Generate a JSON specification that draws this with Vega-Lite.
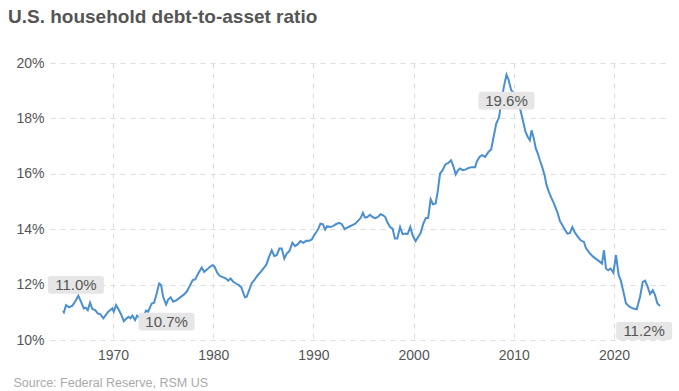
{
  "$schema": "https://vega.github.io/schema/vega-lite/v6.json",
  "width": 618,
  "height": 277,
  "autosize": {"type": "none"},
  "padding": {"left": 50, "top": 63, "right": 11, "bottom": 51},
  "background": "white",
  "title": {"text": "U.S. household debt-to-asset ratio", "anchor": "start", "frame": "group", "dx": -42, "fontSize": 19, "font": "Liberation Sans", "fontWeight": "bold", "color": "#555555", "offset": 29},
  "config": {"view": {"stroke": null}, "font": "Liberation Sans"},
  "datasets": {
    "series": [
      {"year": 1965.00, "value": 11.05}, {"year": 1965.10, "value": 11.00}, {"year": 1965.31, "value": 11.26}, {"year": 1965.61, "value": 11.18},
      {"year": 1965.94, "value": 11.24}, {"year": 1966.21, "value": 11.38}, {"year": 1966.54, "value": 11.60}, {"year": 1966.81, "value": 11.38},
      {"year": 1967.08, "value": 11.14}, {"year": 1967.28, "value": 11.17}, {"year": 1967.48, "value": 11.08}, {"year": 1967.71, "value": 11.35},
      {"year": 1967.94, "value": 11.12}, {"year": 1968.21, "value": 11.08}, {"year": 1968.48, "value": 10.96}, {"year": 1968.74, "value": 10.93},
      {"year": 1969.03, "value": 10.78}, {"year": 1969.27, "value": 10.90}, {"year": 1969.53, "value": 11.02}, {"year": 1969.73, "value": 11.08},
      {"year": 1969.93, "value": 11.14}, {"year": 1970.07, "value": 11.02}, {"year": 1970.30, "value": 11.26}, {"year": 1970.53, "value": 11.12},
      {"year": 1970.80, "value": 10.93}, {"year": 1971.07, "value": 10.68}, {"year": 1971.30, "value": 10.76}, {"year": 1971.53, "value": 10.84},
      {"year": 1971.73, "value": 10.78}, {"year": 1971.93, "value": 10.88}, {"year": 1972.20, "value": 10.72}, {"year": 1972.40, "value": 10.88},
      {"year": 1972.66, "value": 10.80}, {"year": 1972.85, "value": 10.70}, {"year": 1973.05, "value": 10.86}, {"year": 1973.30, "value": 11.06},
      {"year": 1973.50, "value": 11.02}, {"year": 1973.86, "value": 11.32}, {"year": 1974.10, "value": 11.35}, {"year": 1974.36, "value": 11.68},
      {"year": 1974.60, "value": 12.04}, {"year": 1974.80, "value": 11.98}, {"year": 1975.00, "value": 11.56}, {"year": 1975.30, "value": 11.28},
      {"year": 1975.50, "value": 11.46}, {"year": 1975.75, "value": 11.54}, {"year": 1976.00, "value": 11.38}, {"year": 1976.35, "value": 11.44},
      {"year": 1976.70, "value": 11.54}, {"year": 1977.00, "value": 11.62}, {"year": 1977.35, "value": 11.74}, {"year": 1977.70, "value": 11.98},
      {"year": 1977.95, "value": 12.16}, {"year": 1978.20, "value": 12.19}, {"year": 1978.50, "value": 12.40}, {"year": 1978.85, "value": 12.62},
      {"year": 1979.10, "value": 12.46}, {"year": 1979.40, "value": 12.55}, {"year": 1979.67, "value": 12.64}, {"year": 1979.94, "value": 12.70},
      {"year": 1980.10, "value": 12.67}, {"year": 1980.40, "value": 12.43}, {"year": 1980.67, "value": 12.31}, {"year": 1981.00, "value": 12.26},
      {"year": 1981.27, "value": 12.22}, {"year": 1981.50, "value": 12.14}, {"year": 1981.74, "value": 12.22}, {"year": 1982.00, "value": 12.10},
      {"year": 1982.27, "value": 12.04}, {"year": 1982.55, "value": 11.98}, {"year": 1982.80, "value": 11.90}, {"year": 1983.00, "value": 11.70},
      {"year": 1983.17, "value": 11.54}, {"year": 1983.34, "value": 11.56}, {"year": 1983.57, "value": 11.78}, {"year": 1983.84, "value": 12.05},
      {"year": 1984.10, "value": 12.16}, {"year": 1984.40, "value": 12.32}, {"year": 1984.70, "value": 12.44}, {"year": 1985.00, "value": 12.58},
      {"year": 1985.30, "value": 12.72}, {"year": 1985.57, "value": 13.00}, {"year": 1985.84, "value": 13.24}, {"year": 1986.10, "value": 13.03},
      {"year": 1986.34, "value": 13.06}, {"year": 1986.60, "value": 13.30}, {"year": 1986.84, "value": 13.30}, {"year": 1987.10, "value": 12.94},
      {"year": 1987.34, "value": 13.12}, {"year": 1987.60, "value": 13.21}, {"year": 1987.90, "value": 13.51}, {"year": 1988.17, "value": 13.39},
      {"year": 1988.44, "value": 13.46}, {"year": 1988.70, "value": 13.57}, {"year": 1989.00, "value": 13.51}, {"year": 1989.27, "value": 13.58},
      {"year": 1989.57, "value": 13.58}, {"year": 1989.84, "value": 13.63}, {"year": 1990.07, "value": 13.78}, {"year": 1990.30, "value": 13.90},
      {"year": 1990.50, "value": 14.02}, {"year": 1990.70, "value": 14.20}, {"year": 1990.94, "value": 14.18}, {"year": 1991.17, "value": 13.99},
      {"year": 1991.37, "value": 14.11}, {"year": 1991.67, "value": 14.08}, {"year": 1991.97, "value": 14.11}, {"year": 1992.24, "value": 14.18},
      {"year": 1992.57, "value": 14.23}, {"year": 1992.84, "value": 14.18}, {"year": 1993.12, "value": 14.00}, {"year": 1993.50, "value": 14.08},
      {"year": 1993.84, "value": 14.14}, {"year": 1994.17, "value": 14.20}, {"year": 1994.50, "value": 14.32}, {"year": 1994.74, "value": 14.42},
      {"year": 1994.94, "value": 14.59}, {"year": 1995.15, "value": 14.42}, {"year": 1995.38, "value": 14.44}, {"year": 1995.65, "value": 14.52},
      {"year": 1995.90, "value": 14.44}, {"year": 1996.18, "value": 14.40}, {"year": 1996.44, "value": 14.44}, {"year": 1996.70, "value": 14.54},
      {"year": 1996.97, "value": 14.50}, {"year": 1997.17, "value": 14.44}, {"year": 1997.37, "value": 14.26}, {"year": 1997.65, "value": 14.08},
      {"year": 1997.90, "value": 14.02}, {"year": 1998.14, "value": 13.66}, {"year": 1998.37, "value": 13.66}, {"year": 1998.65, "value": 14.08},
      {"year": 1998.90, "value": 13.82}, {"year": 1999.17, "value": 13.84}, {"year": 1999.40, "value": 13.82}, {"year": 1999.67, "value": 14.08},
      {"year": 1999.90, "value": 13.78}, {"year": 2000.20, "value": 13.57}, {"year": 2000.42, "value": 13.70}, {"year": 2000.70, "value": 13.86},
      {"year": 2000.97, "value": 14.20}, {"year": 2001.22, "value": 14.40}, {"year": 2001.45, "value": 14.40}, {"year": 2001.70, "value": 15.08},
      {"year": 2001.93, "value": 14.90}, {"year": 2002.20, "value": 14.93}, {"year": 2002.40, "value": 15.35}, {"year": 2002.64, "value": 16.01},
      {"year": 2002.90, "value": 16.13}, {"year": 2003.17, "value": 16.34}, {"year": 2003.47, "value": 16.39}, {"year": 2003.74, "value": 16.49},
      {"year": 2003.97, "value": 16.27}, {"year": 2004.20, "value": 15.98}, {"year": 2004.44, "value": 16.13}, {"year": 2004.64, "value": 16.19},
      {"year": 2004.90, "value": 16.13}, {"year": 2005.17, "value": 16.15}, {"year": 2005.47, "value": 16.21}, {"year": 2005.80, "value": 16.24},
      {"year": 2006.14, "value": 16.24}, {"year": 2006.30, "value": 16.43}, {"year": 2006.57, "value": 16.61}, {"year": 2006.84, "value": 16.67},
      {"year": 2007.14, "value": 16.61}, {"year": 2007.47, "value": 16.79}, {"year": 2007.74, "value": 16.88}, {"year": 2007.98, "value": 17.33},
      {"year": 2008.25, "value": 17.81}, {"year": 2008.52, "value": 18.03}, {"year": 2008.73, "value": 18.53}, {"year": 2009.00, "value": 19.13},
      {"year": 2009.27, "value": 19.58}, {"year": 2009.47, "value": 19.40}, {"year": 2009.74, "value": 19.02}, {"year": 2010.00, "value": 18.93},
      {"year": 2010.17, "value": 18.89}, {"year": 2010.40, "value": 18.65}, {"year": 2010.67, "value": 18.29}, {"year": 2010.94, "value": 17.87},
      {"year": 2011.17, "value": 17.51}, {"year": 2011.40, "value": 17.33}, {"year": 2011.60, "value": 17.21}, {"year": 2011.77, "value": 17.57},
      {"year": 2012.00, "value": 17.27}, {"year": 2012.20, "value": 16.91}, {"year": 2012.40, "value": 16.73}, {"year": 2012.60, "value": 16.49},
      {"year": 2012.84, "value": 16.24}, {"year": 2013.07, "value": 15.95}, {"year": 2013.27, "value": 15.59}, {"year": 2013.50, "value": 15.35},
      {"year": 2013.74, "value": 15.14}, {"year": 2014.00, "value": 14.93}, {"year": 2014.34, "value": 14.62}, {"year": 2014.60, "value": 14.30},
      {"year": 2014.85, "value": 14.14}, {"year": 2015.10, "value": 13.98}, {"year": 2015.35, "value": 13.84}, {"year": 2015.60, "value": 13.86},
      {"year": 2015.84, "value": 14.08}, {"year": 2016.07, "value": 13.90}, {"year": 2016.34, "value": 13.75}, {"year": 2016.67, "value": 13.60},
      {"year": 2017.00, "value": 13.54}, {"year": 2017.20, "value": 13.32}, {"year": 2017.60, "value": 13.12}, {"year": 2017.94, "value": 13.00},
      {"year": 2018.27, "value": 12.91}, {"year": 2018.60, "value": 12.82}, {"year": 2018.80, "value": 12.76}, {"year": 2019.00, "value": 13.24},
      {"year": 2019.20, "value": 12.58}, {"year": 2019.43, "value": 12.52}, {"year": 2019.67, "value": 12.58}, {"year": 2019.94, "value": 12.43},
      {"year": 2020.20, "value": 13.06}, {"year": 2020.47, "value": 12.34}, {"year": 2020.67, "value": 12.16}, {"year": 2020.94, "value": 11.74},
      {"year": 2021.20, "value": 11.32}, {"year": 2021.54, "value": 11.20}, {"year": 2021.87, "value": 11.14}, {"year": 2022.27, "value": 11.11},
      {"year": 2022.60, "value": 11.56}, {"year": 2022.87, "value": 12.10}, {"year": 2023.10, "value": 12.14}, {"year": 2023.33, "value": 11.95},
      {"year": 2023.60, "value": 11.66}, {"year": 2023.87, "value": 11.80}, {"year": 2024.10, "value": 11.62}, {"year": 2024.33, "value": 11.32},
      {"year": 2024.60, "value": 11.23}
    ]
  },
  "encoding": {
    "x": {"field": "year", "type": "quantitative", "scale": {"domain": [1963.71, 2025.39], "nice": false, "zero": false},
      "axis": {"values": [1970, 1980, 1990, 2000, 2010, 2020], "format": "d", "grid": true, "gridDash": [5, 5], "gridColor": "#dddddd", "domain": false, "ticks": false,
        "labelFontSize": 14, "labelColor": "#555555", "labelPadding": 8, "labelFont": "Liberation Sans",
        "title": "Source: Federal Reserve, RSM US", "titleFontSize": 12.5, "titleFontWeight": "normal", "titleColor": "#aaaaaa", "titleFont": "Liberation Sans",
        "titleAnchor": "start", "titleAlign": "left", "titleX": -37, "titleY": 46, "titleBaseline": "alphabetic"}},
    "y": {"field": "value", "type": "quantitative", "scale": {"domain": [10, 20], "nice": false, "zero": false},
      "axis": {"values": [10, 12, 14, 16, 18, 20], "labelExpr": "datum.value + '%'", "grid": true, "gridDash": [5, 5], "gridColor": "#dddddd", "domain": false, "ticks": false,
        "labelFontSize": 14, "labelColor": "#555555", "labelPadding": 6, "labelFont": "Liberation Sans", "title": null}}
  },
  "layer": [
    {"data": {"name": "series"}, "mark": {"type": "line", "color": "#4a8fd0", "strokeWidth": 2}},
    {"data": {"values": [{"year": 1965.0, "value": 11.05, "label": "11.0%"}]},
      "layer": [
        {"mark": {"type": "point", "shape": "M-0.9,-0.32L0.9,-0.32Q1,-0.32 1,-0.22L1,0.22Q1,0.32 0.9,0.32L-0.9,0.32Q-1,0.32 -1,0.22L-1,-0.22Q-1,-0.32 -0.9,-0.32Z", "size": 3136, "filled": true, "fill": "#e6e6e6", "opacity": 1, "strokeWidth": 0, "xOffset": 13, "yOffset": -26}},
        {"mark": {"type": "text", "fontSize": 15, "color": "#555555", "dx": 13, "dy": -26, "baseline": "middle", "align": "center"}, "encoding": {"text": {"field": "label"}}}
      ]},
    {"data": {"values": [{"year": 1972.85, "value": 10.70, "label": "10.7%"}]},
      "layer": [
        {"mark": {"type": "point", "shape": "M-0.9,-0.32L0.9,-0.32Q1,-0.32 1,-0.22L1,0.22Q1,0.32 0.9,0.32L-0.9,0.32Q-1,0.32 -1,0.22L-1,-0.22Q-1,-0.32 -0.9,-0.32Z", "size": 3136, "filled": true, "fill": "#e6e6e6", "opacity": 1, "strokeWidth": 0, "xOffset": 25, "yOffset": 1}},
        {"mark": {"type": "text", "fontSize": 15, "color": "#555555", "dx": 25, "dy": 1, "baseline": "middle", "align": "center"}, "encoding": {"text": {"field": "label"}}}
      ]},
    {"data": {"values": [{"year": 2009.27, "value": 19.58, "label": "19.6%"}]},
      "layer": [
        {"mark": {"type": "point", "shape": "M-0.9,-0.32L0.9,-0.32Q1,-0.32 1,-0.22L1,0.22Q1,0.32 0.9,0.32L-0.9,0.32Q-1,0.32 -1,0.22L-1,-0.22Q-1,-0.32 -0.9,-0.32Z", "size": 3136, "filled": true, "fill": "#e6e6e6", "opacity": 1, "strokeWidth": 0, "xOffset": 0, "yOffset": 26}},
        {"mark": {"type": "text", "fontSize": 15, "color": "#555555", "dx": 0, "dy": 26, "baseline": "middle", "align": "center"}, "encoding": {"text": {"field": "label"}}}
      ]},
    {"data": {"values": [{"year": 2024.6, "value": 11.23, "label": "11.2%"}]},
      "layer": [
        {"mark": {"type": "point", "shape": "M-0.9,-0.32L0.9,-0.32Q1,-0.32 1,-0.22L1,0.22Q1,0.32 0.9,0.32L-0.9,0.32Q-1,0.32 -1,0.22L-1,-0.22Q-1,-0.32 -0.9,-0.32Z", "size": 3136, "filled": true, "fill": "#e6e6e6", "opacity": 1, "strokeWidth": 0, "xOffset": -16, "yOffset": 25}},
        {"mark": {"type": "text", "fontSize": 15, "color": "#555555", "dx": -16, "dy": 25, "baseline": "middle", "align": "center"}, "encoding": {"text": {"field": "label"}}}
      ]}
  ]
}
